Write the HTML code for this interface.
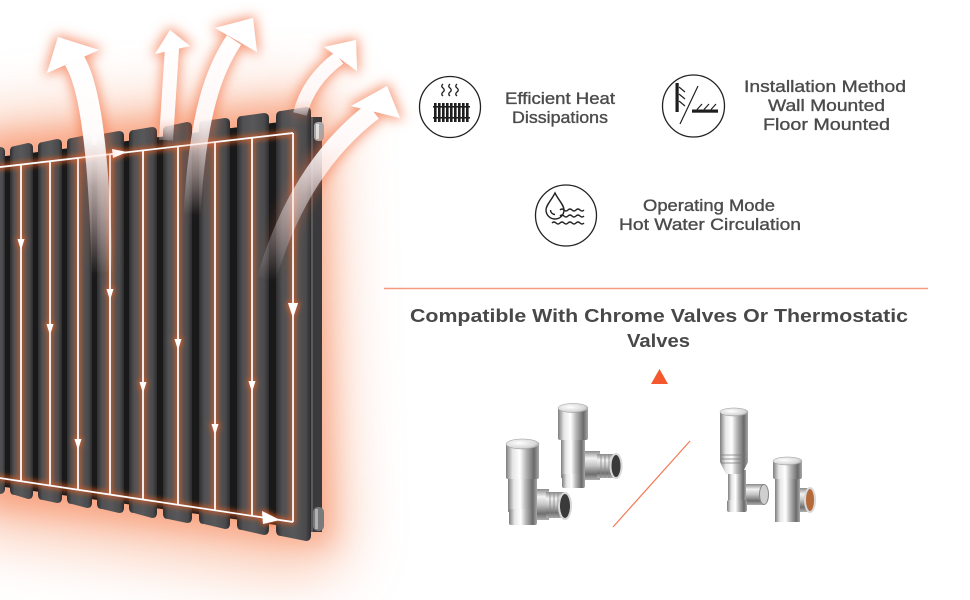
<!DOCTYPE html>
<html><head><meta charset="utf-8"><style>
html,body{margin:0;padding:0;background:#fff;}
svg{display:block;}
text{font-family:"Liberation Sans",Arial,sans-serif;}
</style></head><body>
<svg width="970" height="600" viewBox="0 0 970 600" xmlns="http://www.w3.org/2000/svg">
<defs>
 <filter id="big" x="-60%" y="-60%" width="220%" height="220%"><feGaussianBlur stdDeviation="30"/></filter>
 <filter id="mid" x="-40%" y="-40%" width="180%" height="180%"><feGaussianBlur stdDeviation="14"/></filter>
 <filter id="heatglow" x="-60%" y="-60%" width="220%" height="220%">
  <feMorphology in="SourceAlpha" operator="dilate" radius="2" result="d"/>
  <feGaussianBlur in="d" stdDeviation="6" result="b"/>
  <feFlood flood-color="#f36c3c" flood-opacity="0.7"/>
  <feComposite in2="b" operator="in" result="g"/>
  <feMerge><feMergeNode in="g"/><feMergeNode in="SourceGraphic"/></feMerge>
 </filter>
 <filter id="lglow" x="-20%" y="-20%" width="140%" height="140%">
  <feMorphology in="SourceAlpha" operator="dilate" radius="1.2" result="d"/>
  <feGaussianBlur in="d" stdDeviation="3" result="b"/>
  <feFlood flood-color="#f0601e" flood-opacity="0.95"/>
  <feComposite in2="b" operator="in" result="g"/>
  <feMerge><feMergeNode in="g"/><feMergeNode in="SourceGraphic"/></feMerge>
 </filter>
 <linearGradient id="col" x1="0" y1="0" x2="1" y2="0">
  <stop offset="0" stop-color="#2e2e30"/><stop offset="0.18" stop-color="#505052"/>
  <stop offset="0.5" stop-color="#58585a"/><stop offset="0.85" stop-color="#4a4a4c"/>
  <stop offset="1" stop-color="#2c2c2e"/>
 </linearGradient>
 <linearGradient id="g1" gradientUnits="userSpaceOnUse" x1="0" y1="40" x2="0" y2="275">
  <stop offset="0" stop-color="#fff" stop-opacity="1"/><stop offset="0.42" stop-color="#fff" stop-opacity="0.95"/>
  <stop offset="0.62" stop-color="#fff" stop-opacity="0.5"/><stop offset="1" stop-color="#fff" stop-opacity="0"/>
 </linearGradient>
 <linearGradient id="g2" gradientUnits="userSpaceOnUse" x1="0" y1="30" x2="0" y2="140">
  <stop offset="0" stop-color="#fff" stop-opacity="1"/><stop offset="0.8" stop-color="#fff" stop-opacity="0.9"/>
  <stop offset="1" stop-color="#fff" stop-opacity="0.2"/>
 </linearGradient>
 <linearGradient id="g3" gradientUnits="userSpaceOnUse" x1="0" y1="20" x2="0" y2="215">
  <stop offset="0" stop-color="#fff" stop-opacity="1"/><stop offset="0.5" stop-color="#fff" stop-opacity="0.9"/>
  <stop offset="0.7" stop-color="#fff" stop-opacity="0.45"/><stop offset="1" stop-color="#fff" stop-opacity="0"/>
 </linearGradient>
 <linearGradient id="g4" gradientUnits="userSpaceOnUse" x1="0" y1="40" x2="0" y2="115">
  <stop offset="0" stop-color="#fff" stop-opacity="1"/><stop offset="0.8" stop-color="#fff" stop-opacity="0.85"/>
  <stop offset="1" stop-color="#fff" stop-opacity="0.3"/>
 </linearGradient>
 <linearGradient id="g5" gradientUnits="userSpaceOnUse" x1="0" y1="87" x2="0" y2="280">
  <stop offset="0" stop-color="#fff" stop-opacity="1"/><stop offset="0.3" stop-color="#fff" stop-opacity="0.9"/>
  <stop offset="0.55" stop-color="#fff" stop-opacity="0.45"/><stop offset="1" stop-color="#fff" stop-opacity="0"/>
 </linearGradient>
 <linearGradient id="chrome" x1="0" y1="0" x2="1" y2="0">
  <stop offset="0" stop-color="#7d7d7d"/><stop offset="0.2" stop-color="#e6e6e6"/>
  <stop offset="0.42" stop-color="#ffffff"/><stop offset="0.6" stop-color="#b8b8b8"/>
  <stop offset="0.85" stop-color="#6a6a6a"/><stop offset="1" stop-color="#a8a8a8"/>
 </linearGradient>
 <linearGradient id="chromeV" x1="0" y1="0" x2="0" y2="1">
  <stop offset="0" stop-color="#8a8a8a"/><stop offset="0.25" stop-color="#f2f2f2"/>
  <stop offset="0.5" stop-color="#c4c4c4"/><stop offset="0.8" stop-color="#6e6e6e"/>
  <stop offset="1" stop-color="#b0b0b0"/>
 </linearGradient>
 <radialGradient id="capTop" cx="0.4" cy="0.4" r="0.7">
  <stop offset="0" stop-color="#ffffff"/><stop offset="0.7" stop-color="#d8d8d8"/><stop offset="1" stop-color="#9a9a9a"/>
 </radialGradient>
</defs>

<rect width="970" height="600" fill="#fff"/>

<!-- background glow -->
<polygon points="-40,120 330,90 345,560 300,575 -40,530" fill="#f9b090" opacity="0.7" filter="url(#big)"/>
<polygon points="-20,138 322,100 332,545 -20,505" fill="#f47e50" opacity="0.5" filter="url(#mid)"/>

<!-- radiator back body -->
<polygon points="-10,158 312,118 312,530 -10,485" fill="#19191a"/>

<!-- columns -->
<g fill="url(#col)">
 <path d="M-10,153 Q-10,148 -5,148 L0,147 Q5,147 5,152 L5,488 Q5,494 0,494 L-5,492 Q-10,492 -10,487 Z"/>
 <path d="M10,151 Q10,146 15,146 L28,143 Q33,143 33,148 L33,494 Q33,499 28,499 L15,495 Q10,495 10,490 Z"/>
 <path d="M38,147 Q38,142 43,142 L57,139 Q62,139 62,144 L62,498 Q62,503 57,503 L43,500 Q38,500 38,495 Z"/>
 <path d="M67,143 Q67,138 72,138 L87,135 Q92,135 92,140 L92,503 Q92,508 87,508 L72,504 Q67,504 67,499 Z"/>
 <path d="M97,140 Q97,134 102,134 L119,131 Q124,131 124,136 L124,508 Q124,513 119,513 L102,509 Q97,509 97,504 Z"/>
 <path d="M129,136 Q129,130 134,130 L152,127 Q157,127 157,132 L157,513 Q157,518 152,518 L134,513 Q129,513 129,508 Z"/>
 <path d="M163,131 Q163,126 168,126 L187,122 Q192,122 192,127 L192,518 Q192,523 187,523 L168,519 Q163,519 163,514 Z"/>
 <path d="M199,127 Q199,121 204,121 L225,118 Q230,118 230,123 L230,524 Q230,529 225,529 L204,524 Q199,524 199,519 Z"/>
 <path d="M237,122 Q237,116 242,116 L264,113 Q269,113 269,118 L269,529 Q269,535 264,535 L242,530 Q237,530 237,525 Z"/>
 <path d="M276,117 Q276,111 281,111 L306,107 Q311,107 311,112 L311,535 Q311,541 306,541 L281,536 Q276,536 276,530 Z"/>
</g>
<!-- end panel -->
<rect x="311" y="117" width="11" height="415" fill="#3a3a3d"/>
<rect x="311" y="117" width="2" height="415" fill="#5a5a5c"/>
<rect x="314" y="122" width="10" height="19" rx="4" fill="#a8a8aa"/>
<rect x="316" y="124" width="3" height="15" fill="#e0e0e0"/>
<rect x="313" y="507" width="11" height="24" rx="5" fill="#7a7a7c"/>
<rect x="315" y="509" width="3" height="20" fill="#b0b0b2"/>

<!-- flow lines with orange glow -->
<g filter="url(#lglow)" fill="#fff">
 <g stroke="#fff" stroke-width="1.7" fill="none">
  <line x1="-5" y1="167.6" x2="293" y2="133"/>
  <line x1="-5" y1="477.3" x2="293" y2="522"/>
  <line x1="21" y1="164.6" x2="21" y2="481.2"/>
  <line x1="50" y1="161.2" x2="50" y2="485.5"/>
  <line x1="78" y1="158" x2="78" y2="489.7"/>
  <line x1="110" y1="154.2" x2="110" y2="494.5"/>
  <line x1="143" y1="150.4" x2="143" y2="499.5"/>
  <line x1="178" y1="146.4" x2="178" y2="504.7"/>
  <line x1="215" y1="142.1" x2="215" y2="510.3"/>
  <line x1="252" y1="137.8" x2="252" y2="515.8"/>
  <line x1="293" y1="133" x2="293" y2="522"/>
 </g>
 <polygon points="17.5,239 24.5,239 21,250"/>
 <polygon points="46.5,324 53.5,324 50,335"/>
 <polygon points="74.5,439 81.5,439 78,450"/>
 <polygon points="106.5,289 113.5,289 110,300"/>
 <polygon points="139.5,382 146.5,382 143,393"/>
 <polygon points="174.5,339 181.5,339 178,350"/>
 <polygon points="211.5,424 218.5,424 215,435"/>
 <polygon points="248.5,381 255.5,381 252,392"/>
 <polygon points="288,303 298,303 293,318"/>
 <polygon points="112,149 113,158 127,152"/>
 <polygon points="262,511 263,524 280,520"/>
</g>

<!-- heat arrows -->
<g filter="url(#heatglow)">
 <path d="M74,60 C88,82 99,140 102,272" stroke="url(#g1)" stroke-width="21" fill="none"/>
 <polygon points="47,73 58,37 99,50" fill="#fff"/>
 <path d="M172,48 C170,80 168,110 166,140" stroke="url(#g2)" stroke-width="14" fill="none"/>
 <polygon points="155,54 170,30 190,46" fill="#fff"/>
 <path d="M234,40 C214,70 198,112 192,214" stroke="url(#g3)" stroke-width="17" fill="none"/>
 <polygon points="215,28 253,18 257,52" fill="#fff"/>
 <path d="M339,58 C320,72 306,90 300,114" stroke="url(#g4)" stroke-width="14" fill="none"/>
 <polygon points="324,47 356,40 357,71" fill="#fff"/>
 <path d="M373,111 C335,140 292,190 266,280" stroke="url(#g5)" stroke-width="19" fill="none"/>
 <polygon points="351,106 387,86 400,118" fill="#fff"/>
</g>

<!-- icon 1 -->
<circle cx="450" cy="107" r="30.5" fill="#fff" stroke="#222" stroke-width="1.3"/>
<g stroke="#222" stroke-width="1.4" fill="none">
 <path d="M443,84 q-2.5,2 0,4 t0,4 t0,4"/>
 <path d="M450,84 q-2.5,2 0,4 t0,4 t0,4"/>
 <path d="M457,84 q-2.5,2 0,4 t0,4 t0,4"/>
</g>
<g fill="#1e1e1e">
 <rect x="434" y="103" width="2.6" height="19"/><rect x="438" y="103" width="2.6" height="19"/>
 <rect x="442" y="103" width="2.6" height="19"/><rect x="446" y="103" width="2.6" height="19"/>
 <rect x="450" y="103" width="2.6" height="19"/><rect x="454" y="103" width="2.6" height="19"/>
 <rect x="458" y="103" width="2.6" height="19"/><rect x="462" y="103" width="2.6" height="19"/>
 <rect x="466" y="103" width="2.6" height="19"/>
 <rect x="433" y="106" width="37" height="1.6"/><rect x="433" y="117" width="37" height="1.6"/>
</g>
<g fill="#4b4b4b" stroke="#4b4b4b" stroke-width="0.35" font-size="16.5">
 <text x="505" y="104" textLength="110" lengthAdjust="spacingAndGlyphs">Efficient Heat</text>
 <text x="512" y="123" textLength="96" lengthAdjust="spacingAndGlyphs">Dissipations</text>
</g>

<!-- icon 2 -->
<circle cx="693.5" cy="106" r="31" fill="#fff" stroke="#222" stroke-width="1.3"/>
<rect x="675.5" y="83" width="3.2" height="29" fill="#1e1e1e"/>
<rect x="692" y="109.5" width="26" height="3.2" fill="#1e1e1e"/>
<g stroke="#222" stroke-width="1.2" fill="none">
 <line x1="679" y1="87" x2="685" y2="92"/>
 <line x1="679" y1="94" x2="685" y2="99"/>
 <line x1="679" y1="101" x2="685" y2="106"/>
 <line x1="698" y1="86" x2="680" y2="124"/>
 <line x1="697" y1="109.5" x2="702" y2="104"/>
 <line x1="704" y1="109.5" x2="709" y2="104"/>
 <line x1="711" y1="109.5" x2="716" y2="104"/>
</g>
<g fill="#4b4b4b" stroke="#4b4b4b" stroke-width="0.35" font-size="16.5">
 <text x="744" y="92" textLength="162" lengthAdjust="spacingAndGlyphs">Installation Method</text>
 <text x="768" y="111" textLength="117" lengthAdjust="spacingAndGlyphs">Wall Mounted</text>
 <text x="763" y="130" textLength="127" lengthAdjust="spacingAndGlyphs">Floor Mounted</text>
</g>

<!-- icon 3 -->
<circle cx="566" cy="215.5" r="30.5" fill="#fff" stroke="#222" stroke-width="1.3"/>
<g stroke="#222" stroke-width="1.4" fill="none">
 <path d="M555,193 C551,201 546,205 546,210 a9,9 0 0 0 18,0 C564,205 559,201 555,193 Z" fill="#fff"/>
 <path d="M550.5,210 a4.5,4.5 0 0 0 4.5,4.5"/>
 <path d="M560,210 q2,-2 4,0 t4,0 t4,0 t4,0 t4,0 t4,0"/>
 <path d="M560,216 q2,-2 4,0 t4,0 t4,0 t4,0 t4,0 t4,0"/>
 <path d="M552,223 q2,-2 4,0 t4,0 t4,0 t4,0 t4,0 t4,0 t4,0 t4,0"/>
</g>
<g fill="#4b4b4b" stroke="#4b4b4b" stroke-width="0.35" font-size="16.5">
 <text x="643" y="211" textLength="132" lengthAdjust="spacingAndGlyphs">Operating Mode</text>
 <text x="619" y="230" textLength="182" lengthAdjust="spacingAndGlyphs">Hot Water Circulation</text>
</g>

<!-- divider -->
<line x1="384" y1="288.5" x2="928" y2="288.5" stroke="#f59a80" stroke-width="1.4"/>

<!-- title -->
<g fill="#484848" font-size="18" font-weight="bold">
 <text x="410" y="322" textLength="498" lengthAdjust="spacingAndGlyphs">Compatible With Chrome Valves Or Thermostatic</text>
 <text x="627" y="347" textLength="63" lengthAdjust="spacingAndGlyphs">Valves</text>
</g>
<polygon points="651,384 668,384 659.5,369" fill="#f4582e"/>

<!-- diagonal -->
<line x1="613" y1="527" x2="690" y2="441" stroke="#f47a55" stroke-width="1.2"/>

<!-- left valves: back -->
<g>
 <rect x="575" y="451" width="25" height="29" fill="url(#chromeV)"/>
 <rect x="597" y="454" width="18" height="24" fill="url(#chromeV)"/>
 <g stroke="#8a8a8a" stroke-width="0.8"><line x1="601" y1="454" x2="601" y2="478"/><line x1="605" y1="454" x2="605" y2="478"/><line x1="609" y1="454" x2="609" y2="478"/></g>
 <ellipse cx="616" cy="466" rx="5.5" ry="12" fill="#3a3a3a" stroke="#d8d8d8" stroke-width="2"/>
 <rect x="561" y="438" width="24" height="40" fill="url(#chrome)"/>
 <rect x="562" y="474" width="23" height="14" rx="2" fill="url(#chrome)"/>
 <rect x="558" y="408" width="30" height="32" rx="2" fill="url(#chrome)"/>
 <ellipse cx="573" cy="408" rx="15" ry="4.5" fill="url(#capTop)" stroke="#999" stroke-width="0.5"/>
</g>
<!-- left valves: front -->
<g>
 <rect x="522" y="489" width="27" height="31" fill="url(#chromeV)"/>
 <rect x="546" y="492" width="18" height="26" fill="url(#chromeV)"/>
 <g stroke="#8a8a8a" stroke-width="0.8"><line x1="550" y1="492" x2="550" y2="518"/><line x1="554" y1="492" x2="554" y2="518"/><line x1="558" y1="492" x2="558" y2="518"/></g>
 <ellipse cx="565" cy="506" rx="6" ry="13" fill="#3a3a3a" stroke="#d8d8d8" stroke-width="2"/>
 <rect x="508" y="476" width="29" height="36" fill="url(#chrome)"/>
 <rect x="509" y="509" width="28" height="16" rx="2" fill="url(#chrome)"/>
 <rect x="506" y="444" width="33" height="35" rx="2" fill="url(#chrome)"/>
 <ellipse cx="522.5" cy="444" rx="16.5" ry="5" fill="url(#capTop)" stroke="#999" stroke-width="0.5"/>
</g>
<!-- thermostatic valve -->
<g>
 <rect x="742" y="484" width="22" height="21" fill="url(#chromeV)"/>
 <ellipse cx="764" cy="494.5" rx="4.5" ry="10" fill="#cfcfcf" stroke="#888" stroke-width="1"/>
 <rect x="728" y="470" width="18" height="36" fill="url(#chrome)"/>
 <rect x="727" y="500" width="20" height="12" rx="2" fill="url(#chrome)"/>
 <path d="M720,412 L748,412 L748,462 L742,474 L726,474 L720,462 Z" fill="url(#chrome)"/>
 <g stroke="#7a7a7a" stroke-width="0.8"><line x1="721" y1="455" x2="747" y2="455"/><line x1="721" y1="459" x2="747" y2="459"/><line x1="721" y1="463" x2="747" y2="463"/></g>
 <ellipse cx="734" cy="412" rx="14" ry="4" fill="url(#capTop)" stroke="#999" stroke-width="0.5"/>
</g>
<!-- small valve -->
<g>
 <rect x="796" y="488" width="14" height="24" fill="url(#chromeV)"/>
 <ellipse cx="810" cy="500" rx="5" ry="12" fill="#b56a3a" stroke="#d8d8d8" stroke-width="2"/>
 <rect x="775" y="476" width="25" height="46" fill="url(#chrome)"/>
 <rect x="773" y="461" width="29" height="18" rx="2" fill="url(#chrome)"/>
 <ellipse cx="787.5" cy="461" rx="14.5" ry="4" fill="url(#capTop)" stroke="#999" stroke-width="0.5"/>
</g>
</svg>
</body></html>
